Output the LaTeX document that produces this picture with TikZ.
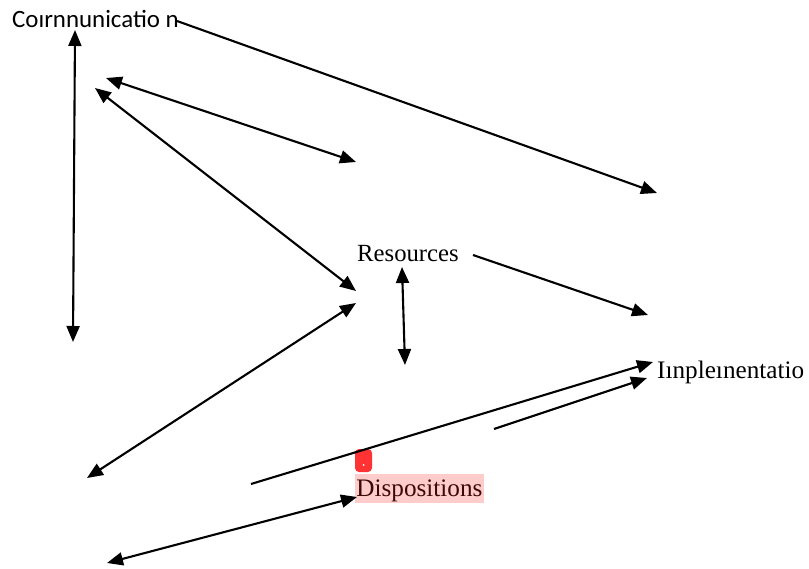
\documentclass[tikz,border=0pt]{standalone}
\usepackage{fontspec}
\setmainfont{Liberation Serif}
\newfontfamily\cfont{Carlito}
\usetikzlibrary{arrows.meta}
\definecolor{hlpink}{RGB}{255,204,204}
\definecolor{markred}{RGB}{255,51,51}
\definecolor{disptext}{RGB}{60,8,8}
\tikzset{
  conn/.style={line width=2.1pt, -{Triangle[length=16pt,width=13pt]}},
  dconn/.style={line width=2.1pt, {Triangle[length=16pt,width=13pt]}-{Triangle[length=16pt,width=13pt]}},
  lbl/.style={anchor=base west, inner sep=0pt, font=\fontsize{25.2}{28}\selectfont},
}
\begin{document}
\begin{tikzpicture}[x=1pt,y=-1pt]
\useasboundingbox (0,0) rectangle (809,569);
% labels
\node[lbl, font=\cfont\fontsize{24.9}{28}\selectfont] (comm) at (12,28) {Coırnnunicatio n};
\node[lbl, font=\fontsize{24.7}{28}\selectfont] (res) at (357,262) {Resources};
\node[lbl] (impl) at (657,378) {Iınpleınentatio};
\node[lbl, fill=hlpink, text=disptext, text height=21pt, text depth=6pt, inner ysep=1pt, inner xsep=1.2pt] (disp) at (355,496) {Dispositions};
\node[fill=markred, rounded corners=4pt, minimum width=17pt, minimum height=23pt, inner sep=0pt] (mark) at (363.5,460.5) {};
\fill[white] (mark.center) ++(0,4.5) circle (1pt);
% endpoints
\coordinate (c1a) at (75,30);   \coordinate (c1b) at (73,342);
\coordinate (c2a) at (177,21);  \coordinate (c2b) at (657,193);
\coordinate (c3a) at (106,78);  \coordinate (c3b) at (356,162);
\coordinate (c4a) at (95,88);   \coordinate (c4b) at (356,291);
\coordinate (c5a) at (356,303); \coordinate (c5b) at (87,478);
\coordinate (c6a) at (473,255); \coordinate (c6b) at (648,315);
\coordinate (c7a) at (402,267); \coordinate (c7b) at (405,365);
\coordinate (c8a) at (251,484); \coordinate (c8b) at (653,362);
\coordinate (c9a) at (494,429); \coordinate (c9b) at (647,378);
\coordinate (c10a) at (107,563); \coordinate (c10b) at (357,497);
% connectors
\draw[dconn] (c1a) -- (c1b);
\draw[conn] (c2a) -- (c2b);
\draw[dconn] (c3a) -- (c3b);
\draw[dconn] (c4a) -- (c4b);
\draw[dconn] (c5a) -- (c5b);
\draw[conn] (c6a) -- (c6b);
\draw[dconn] (c7a) -- (c7b);
\draw[conn] (c8a) -- (c8b);
\draw[conn] (c9a) -- (c9b);
\draw[dconn] (c10a) -- (c10b);
\end{tikzpicture}
\end{document}
